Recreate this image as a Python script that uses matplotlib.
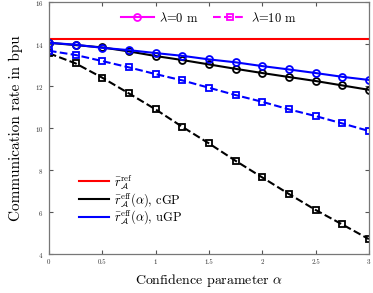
import matplotlib
matplotlib.use('Agg')
import matplotlib.pyplot as plt
from matplotlib.lines import Line2D

plt.rcParams['font.family'] = 'cmr10'
plt.rcParams['mathtext.fontset'] = 'cm'
plt.rcParams['axes.formatter.use_mathtext'] = True

alpha = [0, 0.25, 0.5, 0.75, 1.0, 1.25, 1.5, 1.75, 2.0, 2.25, 2.5, 2.75, 3.0]
r_ref = 14.24

# lambda = 0 m
ugp_0 = [14.06, 13.97, 13.82, 13.71, 13.57, 13.44, 13.27, 13.13, 12.95, 12.79, 12.62, 12.44, 12.29]
cgp_0 = [14.06, 13.95, 13.84, 13.65, 13.43, 13.24, 13.03, 12.82, 12.62, 12.43, 12.24, 12.03, 11.82]
# lambda = 10 m
ugp_10 = [13.68, 13.48, 13.19, 12.89, 12.57, 12.27, 11.92, 11.57, 11.25, 10.89, 10.57, 10.22, 9.86]
cgp_10 = [13.56, 13.08, 12.40, 11.65, 10.89, 10.06, 9.27, 8.44, 7.65, 6.86, 6.10, 5.41, 4.71]

xticks = [0, 0.5, 1, 1.5, 2, 2.5, 3]
yticks = [4, 6, 8, 10, 12, 14, 16]

fig = plt.figure(figsize=(3.73, 2.93), dpi=100)
ax = fig.add_axes([0.131, 0.133, 0.858, 0.860])

lw = 1.5
ms_o, ms_s, mew = 5.0, 3.8, 1.3
ax.axhline(r_ref, color='red', lw=lw)
ax.plot(alpha, cgp_0, color='black', lw=lw, marker='o', ms=ms_o, mfc='none', mew=mew)
ax.plot(alpha, ugp_0, color='blue', lw=lw, marker='o', ms=ms_o, mfc='none', mew=mew)
ax.plot(alpha, cgp_10, color='black', lw=lw, ls='--', marker='s', ms=ms_s, mfc='none', mew=mew)
ax.plot(alpha, ugp_10, color='blue', lw=lw, ls='--', marker='s', ms=ms_s, mfc='none', mew=mew)

ax.set_xlim(0, 3)
ax.set_ylim(4, 16)
ax.set_xticks(xticks)
ax.set_xticklabels([str(t) for t in xticks])
ax.set_yticks(yticks)
ax.tick_params(direction='in', top=True, right=True, labelsize=5, length=3,
               color='#555555', labelcolor='#333333', pad=4)
for s in ax.spines.values():
    s.set_color('#777777')
    s.set_linewidth(0.9)

ax.set_xlabel(r'Confidence parameter $\alpha$', fontsize=10, labelpad=5)
ax.set_ylabel('Communication rate in bpu', fontsize=11, labelpad=8)

lam_handles = [
    Line2D([], [], color='magenta', lw=lw, marker='o', ms=ms_o, mfc='none', mew=mew),
    Line2D([], [], color='magenta', lw=lw, ls='--', marker='s', ms=ms_s, mfc='none', mew=mew),
]
leg1 = ax.legend(lam_handles, [r'$\lambda$=0 m', r'$\lambda$=10 m'], loc='upper center',
                 ncol=2, frameon=False, fontsize=9, handlelength=2.6, columnspacing=1.2,
                 borderaxespad=0.3, handletextpad=0.4)
ax.add_artist(leg1)

series_handles = [
    Line2D([], [], color='red', lw=lw),
    Line2D([], [], color='black', lw=lw),
    Line2D([], [], color='blue', lw=lw),
]
series_labels = [
    r'$\bar{r}_{\mathcal{A}}^{\mathrm{ref}}$',
    r'$\bar{r}_{\mathcal{A}}^{\mathrm{eff}}(\alpha)$, cGP',
    r'$\bar{r}_{\mathcal{A}}^{\mathrm{eff}}(\alpha)$, uGP',
]
ax.legend(series_handles, series_labels, loc='lower left', bbox_to_anchor=(0.07, 0.08),
          frameon=False, fontsize=9, handlelength=2.4, labelspacing=0.0,
          handletextpad=0.4, borderaxespad=0.2)

fig.savefig('out.png', dpi=100)
